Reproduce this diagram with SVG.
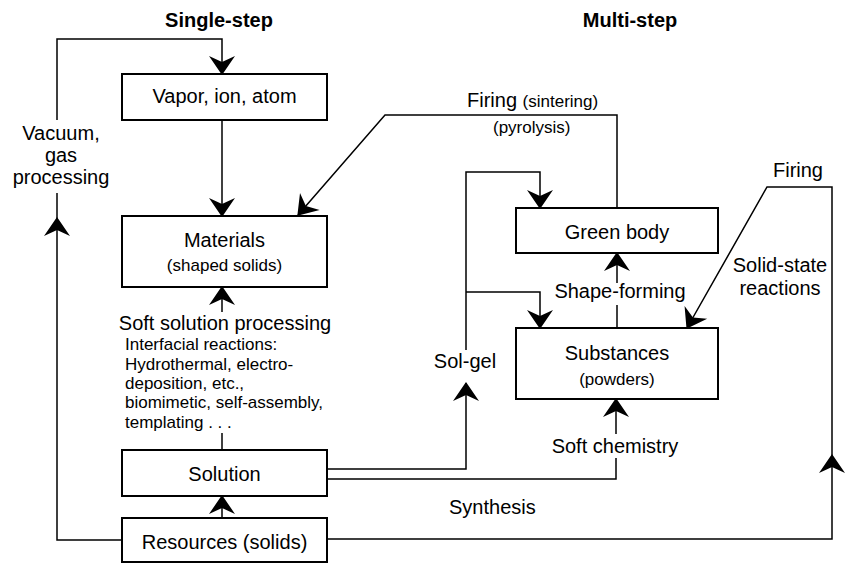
<svg xmlns="http://www.w3.org/2000/svg" xmlns:xlink="http://www.w3.org/1999/xlink" width="845" height="564" viewBox="0 0 845 564">
<defs>
<style>
text{font-family:"Liberation Sans",Arial,Helvetica,sans-serif;fill:#000}
.t{font-size:20px}
.s{font-size:17px}
.b{font-size:20px;font-weight:bold}
.m{text-anchor:middle}
.box{fill:#fff;stroke:#000;stroke-width:2}
.ln{fill:none;stroke:#000;stroke-width:1.5}
</style>
<marker id="ah" markerUnits="userSpaceOnUse" markerWidth="26" markerHeight="28" viewBox="-21 -14 23 28" refX="0" refY="0" orient="auto" overflow="visible">
<path d="M1,0 L-18,-13 L-12,0 L-18,13 Z" fill="#000"/>
</marker>
</defs>
<rect width="845" height="564" fill="#fff"/>

<text class="b m" x="219" y="27">Single-step</text>
<text class="b m" x="630" y="27">Multi-step</text>

<g id="connectors">
<path class="ln" d="M122,540 H57 V218" marker-end="url(#ah)"/>
<path class="ln" d="M57,218 V193"/>
<path class="ln" d="M57,120 V39 H222 V74" marker-end="url(#ah)"/>
<path class="ln" d="M222,120 V216" marker-end="url(#ah)"/>
<path class="ln" d="M617,208 V115 H385 L298,215" marker-end="url(#ah)"/>
<path class="ln" d="M327,469 H466 V383" marker-end="url(#ah)"/>
<path class="ln" d="M466,350 V172 H540 V208" marker-end="url(#ah)"/>
<path class="ln" d="M466,292 H540 V328" marker-end="url(#ah)"/>
<path class="ln" d="M327,479 H616 V458"/>
<path class="ln" d="M616,434 V399" marker-end="url(#ah)"/>
<path class="ln" d="M617,328 V305"/>
<path class="ln" d="M617,283 V253" marker-end="url(#ah)"/>
<path class="ln" d="M222,518 V496" marker-end="url(#ah)"/>
<path class="ln" d="M222,450 V433"/>
<path class="ln" d="M222,312 V287" marker-end="url(#ah)"/>
<path class="ln" d="M327,539 H832 V455" marker-end="url(#ah)"/>
<path class="ln" d="M832,455 V187 H767 L687,328" marker-end="url(#ah)"/>
</g>

<g id="vapor">
<rect class="box" x="122" y="74" width="205" height="46"/>
<text class="t m" x="224.5" y="103">Vapor, ion, atom</text>
</g>
<g id="materials">
<rect class="box" x="122" y="216" width="205" height="71"/>
<text class="t m" x="224.5" y="247">Materials</text>
<text class="s m" x="224.5" y="271">(shaped solids)</text>
</g>
<g id="green-body">
<rect class="box" x="516" y="208" width="202" height="45"/>
<text class="t m" x="617" y="239">Green body</text>
</g>
<g id="substances">
<rect class="box" x="516" y="328" width="202" height="71"/>
<text class="t m" x="617" y="360">Substances</text>
<text class="s m" x="617" y="385">(powders)</text>
</g>
<g id="solution">
<rect class="box" x="122" y="450" width="205" height="46"/>
<text class="t m" x="224.5" y="481">Solution</text>
</g>
<g id="resources">
<rect class="box" x="122" y="518" width="205" height="44"/>
<text class="t m" x="224.5" y="549">Resources (solids)</text>
</g>

<g id="labels">
<text class="t m" x="61" y="140">Vacuum,</text>
<text class="t m" x="61" y="162">gas</text>
<text class="t m" x="61" y="184">processing</text>
<text x="467" y="107"><tspan class="t">Firing </tspan><tspan class="s">(sintering)</tspan></text>
<text class="s" x="493" y="133">(pyrolysis)</text>
<text class="t m" x="798" y="177">Firing</text>
<text class="t m" x="780" y="272">Solid-state</text>
<text class="t m" x="780" y="295">reactions</text>
<text class="t m" x="620" y="298">Shape-forming</text>
<text class="t m" x="465" y="368">Sol-gel</text>
<text class="t m" x="615" y="453">Soft chemistry</text>
<text class="t" x="449" y="514">Synthesis</text>
<text class="t m" x="225" y="330">Soft solution processing</text>
<text class="s" x="125" y="350">Interfacial reactions:</text>
<text class="s" x="125" y="370">Hydrothermal, electro-</text>
<text class="s" x="125" y="389">deposition, etc.,</text>
<text class="s" x="125" y="408">biomimetic, self-assembly,</text>
<text class="s" x="125" y="428">templating . . .</text>
</g>
</svg>
